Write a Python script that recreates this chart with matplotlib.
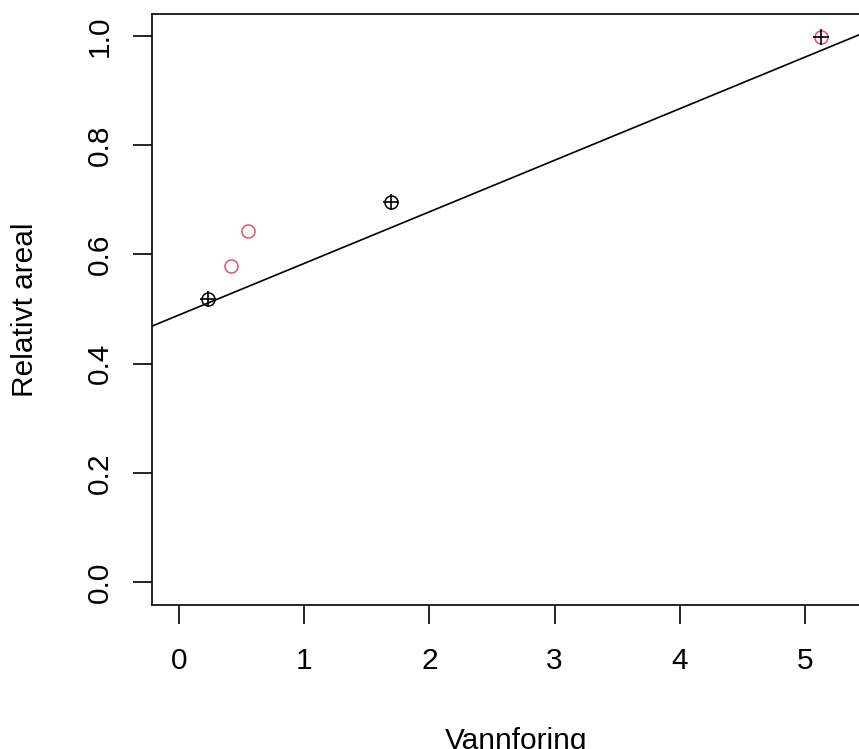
import matplotlib
matplotlib.use('Agg')
import matplotlib.pyplot as plt

plt.rcParams['font.family'] = ['Liberation Sans', 'DejaVu Sans']

# data
black_x = [0.232, 1.693]
black_y = [0.518, 0.696]
red_x = [0.415, 0.551, 5.128]
red_y = [0.579, 0.643, 0.998]
plus_x = [0.232, 1.693, 5.128]
plus_y = [0.518, 0.696, 0.998]
intercept = 0.489
slope = 0.0944

xticks = [0, 1, 2, 3, 4, 5]
yticks = [0.0, 0.2, 0.4, 0.6, 0.8, 1.0]

W, H = 859, 749
fig = plt.figure(figsize=(W / 100, H / 100), dpi=100)
# right edge of the box lies outside the cropped picture
ax = fig.add_axes([152 / W, (H - 605) / H, 728 / W, (605 - 14) / H])
ax.set_xlim(-0.216, 5.6)
ax.set_ylim(-0.042, 1.040)

ax.plot(black_x, black_y, 'o', mfc='none', mec='black', ms=9.4, mew=1.1)
ax.plot(red_x, red_y, 'o', mfc='none', mec='#DF536B', ms=9.4, mew=1.1)
ax.plot(plus_x, plus_y, '+', color='black', ms=11, mew=1.2)
ax.axline((0, intercept), slope=slope, color='black', lw=1.2)

ax.set_xticks(xticks)
ax.set_xticklabels([str(t) for t in xticks])
ax.set_yticks(yticks)
ax.set_yticklabels([f"{t:.1f}" for t in yticks], rotation=90, va='center')
ax.tick_params(length=13.5, width=1.2, labelsize=21.5, pad=17)
ax.tick_params(axis='y', pad=14)

for s in ax.spines.values():
    s.set_linewidth(1.2)

ax.set_xlabel('Vannforing', fontsize=21.5, labelpad=37)
ax.set_ylabel('Relativt areal', fontsize=21.5, labelpad=34)

fig.savefig('out.png', dpi=100)
